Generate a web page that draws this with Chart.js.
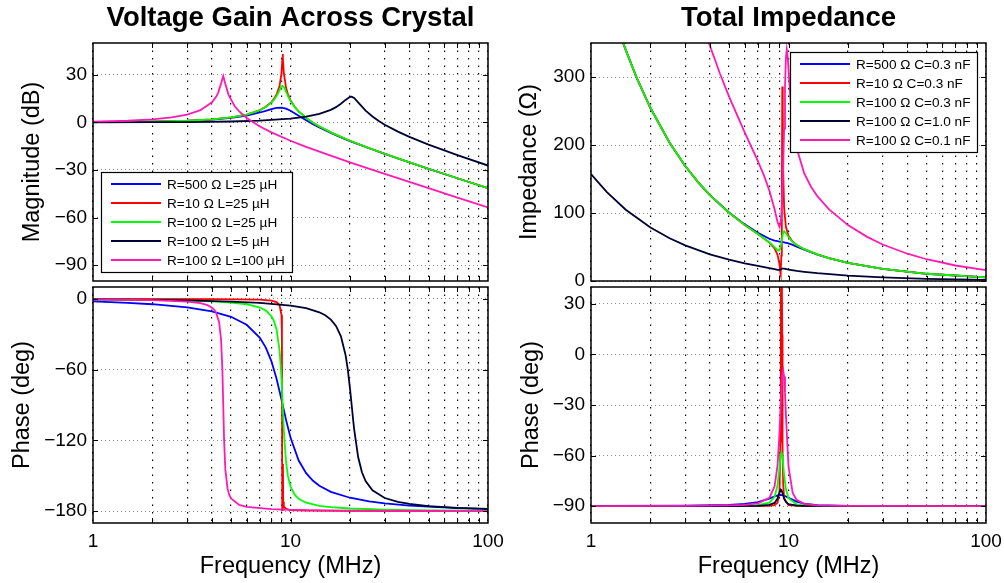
<!DOCTYPE html>
<html>
<head>
<meta charset="utf-8">
<script src="https://cdn.jsdelivr.net/npm/chart.js@4.4.1/dist/chart.umd.min.js"></script>
<style>
  body { margin: 0; background: #fff; }
  #wrap { position: relative; width: 1004px; height: 583px; }
  #wrap canvas { position: absolute; }
</style>
</head>
<body>
<div id="wrap">
  <canvas id="gainMag" width="520" height="290" style="left:0;top:0"></canvas>
  <canvas id="gainPhase" width="520" height="299" style="left:0;top:284px"></canvas>
  <canvas id="impMag" width="506" height="290" style="left:498px;top:0"></canvas>
  <canvas id="impPhase" width="506" height="299" style="left:498px;top:284px"></canvas>
</div>
<script>
// x axis (MHz, log)
const freqTicks = [1, 2, 3, 4, 5, 6, 7, 8, 9, 10, 20, 30, 40, 50, 60, 70, 80, 90, 100];
const freqLabels = [1, 10, 100];

// y ticks per panel
const gainTicks = [-90, -60, -30, 0, 30];
const gainPhaseTicks = [-180, -120, -60, 0];
const impTicks = [0, 100, 200, 300];
const impPhaseTicks = [-90, -60, -30, 0, 30];

const gainLabels = ["R=500 Ω L=25 µH", "R=10 Ω L=25 µH", "R=100 Ω L=25 µH", "R=100 Ω L=5 µH", "R=100 Ω L=100 µH"];
const impLabels = ["R=500 Ω C=0.3 nF", "R=10 Ω C=0.3 nF", "R=100 Ω C=0.3 nF", "R=100 Ω C=1.0 nF", "R=100 Ω C=0.1 nF"];
const seriesColors = ["#0000ff", "#ff0000", "#00ff00", "#000033", "#ff1ab3"];

// voltage gain magnitude, [MHz, dB]
const gainBlue = [[1,0.1],[1.5,0.2],[2,0.4],[3,0.9],[4,1.7],[5,2.8],[6,4.3],[7,6.2],[7.5,7.2],[8,8.3],[8.5,9.1],[9,9.25],[9.5,8.6],[10,7.3],[11,4.2],[12,1.3],[13,-1.15],[14,-3.25],[16,-6.7],[18,-9.45],[20,-11.8],[25,-16.35],[30,-19.9],[35,-22.8],[40,-25.2],[50,-29.3],[70,-35.25],[100,-41.5]];
const gainRed = [[1,0.1],[2,0.43],[3,1],[4,1.85],[5,3.1],[6,4.9],[7,7.7],[7.5,9.8],[8,12.7],[8.2,14.3],[8.5,17.5],[8.8,22.9],[9,30.7],[9.1,40.4],[9.13,43.1],[9.16,40.3],[9.25,31.2],[9.5,21.6],[9.7,17.8],[10,14],[10.5,9.8],[11,6.9],[12,2.8],[13,-0.2],[14,-2.6],[16,-6.3],[18,-9.2],[20,-11.6],[25,-16.25],[30,-19.8],[35,-22.7],[40,-25.2],[50,-29.25],[70,-35.25],[100,-41.5]];
const gainGreen = [[1,0.1],[2,0.43],[3,1],[4,1.85],[5,3.1],[6,4.9],[7,7.6],[7.5,9.6],[8,12.4],[8.2,13.8],[8.5,16.6],[8.8,20.2],[9,22.6],[9.13,23.1],[9.3,21.9],[9.5,19.2],[9.7,16.6],[10,13.4],[10.5,9.6],[11,6.8],[12,2.7],[13,-0.24],[14,-2.6],[16,-6.3],[18,-9.2],[20,-11.6],[25,-16.25],[30,-19.8],[35,-22.75],[40,-25.2],[50,-29.25],[70,-35.25],[100,-41.5]];
const gainBlack = [[1,0],[2,0.08],[3,0.19],[5,0.53],[7,1.07],[10,2.34],[12,3.6],[14,5.36],[16,7.88],[17,9.58],[18,11.68],[19,14.13],[20,16.04],[20.4,16.14],[21,15.33],[22,12.61],[24,7.42],[26,3.67],[28,0.83],[30,-1.48],[35,-5.85],[40,-9.13],[50,-14.02],[70,-20.66],[100,-27.25]];
const gainPink = [[1,0.43],[1.5,0.99],[2,1.85],[2.5,3.09],[3,4.9],[3.5,7.68],[4,12.6],[4.2,16.1],[4.3,18.6],[4.45,24.4],[4.565,29.15],[4.68,24.1],[4.85,17.5],[5.2,10.45],[5.5,6.87],[6,2.75],[7,-2.62],[8,-6.33],[10,-11.59],[12,-15.43],[14,-18.49],[20,-25.2],[30,-32.5],[50,-41.5],[70,-47.4],[100,-53.6]];

// voltage gain phase, [MHz, deg]
const phaseBlue = [[1,-2.2],[1.5,-3.4],[2,-4.6],[3,-7.3],[4,-10.7],[5,-15.25],[6,-22],[7,-33],[7.5,-41.4],[8,-52.75],[8.5,-67.7],[9,-85.3],[9.5,-102.8],[10,-117.6],[11,-137.1],[12,-147.8],[13,-154.2],[14,-158.4],[16,-163.6],[20,-168.6],[25,-171.6],[30,-173.3],[40,-175.2],[50,-176.2],[70,-177.35],[100,-178.2]];
const phaseRed = [[1,0],[4,-0.2],[7,-0.7],[8,-1.5],[8.5,-2.8],[8.8,-5.4],[9,-13.7],[9.05,-30],[9.08,-179],[9.16,-140],[9.18,-172],[9.25,-176],[9.5,-178],[10,-179],[12,-179.5],[20,-179.8],[100,-180]];
const phaseGreen = [[1,-0.44],[2,-0.92],[3,-1.47],[4,-2.17],[5,-3.12],[6,-4.61],[7,-7.39],[7.5,-10],[8,-14.74],[8.2,-17.95],[8.5,-26],[8.8,-43.4],[8.95,-60.3],[9,-67.6],[9.05,-75.8],[9.13,-90],[9.2,-102.4],[9.3,-117.9],[9.5,-138.7],[9.7,-150.1],[10,-159.1],[10.5,-166],[11,-169.5],[12,-172.8],[14,-175.5],[16,-176.6],[20,-177.7],[30,-178.7],[50,-179.25],[100,-179.6]];
const phaseBlack = [[1,-0.44],[2,-0.88],[3,-1.34],[5,-2.33],[7,-3.47],[10,-5.74],[12,-7.98],[14,-11.43],[15,-14],[16,-17.63],[17,-23],[18,-31.84],[19,-47.6],[19.5,-59.9],[20,-75.74],[20.4,-90],[20.8,-104],[21,-110.4],[22,-134.1],[23,-147.05],[24,-154.5],[26,-162.35],[30,-168.85],[35,-172.16],[40,-173.87],[50,-175.64],[70,-177.16],[100,-178.1]];
const phasePink = [[1,-0.46],[2,-1.08],[3,-2.31],[3.5,-3.71],[3.8,-5.4],[4,-7.49],[4.1,-9.2],[4.2,-11.8],[4.35,-19.86],[4.45,-34.33],[4.52,-60.37],[4.565,-90],[4.61,-119.4],[4.68,-145],[4.8,-160.9],[4.9,-166.2],[5,-169.2],[5.5,-174.7],[6,-176.4],[8,-178.3],[10,-178.85],[20,-179.5],[50,-179.8],[100,-179.9]];

// total impedance magnitude, [MHz, ohm]
const impBlue = [[1,509.6],[1.2,424.6],[1.4,363.8],[1.5,339.5],[1.7,299.5],[2,254.4],[2.5,203.3],[3,169.15],[3.5,144.7],[4,126.3],[5,100.7],[6,83.3],[7,70.8],[8,62.1],[8.5,59.5],[8.8,58.5],[9,58],[9.13,57.7],[9.3,57.4],[9.5,56.9],[10,55.25],[10.5,53],[11,50.6],[12,46],[14,38.9],[16,33.8],[20,26.8],[30,17.76],[50,10.63],[100,5.31]];
const impRed = [[1,509.6],[1.2,424.6],[1.4,363.8],[1.5,339.5],[1.7,299.5],[2,254.4],[2.5,203.3],[3,169.15],[3.5,144.7],[4,126.3],[5,100.3],[6,82.5],[7,69],[8,56.5],[8.5,47.9],[8.8,38.5],[9,24.8],[9.1,11.7],[9.13,9.9],[9.2,37.4],[9.25,99.8],[9.3,286],[9.35,256],[9.4,164],[9.5,108.3],[9.7,79.7],[10,66.5],[10.5,57.8],[11,53],[12,46.8],[14,39.05],[16,33.8],[20,26.8],[30,17.76],[50,10.63],[100,5.31]];
const impGreen = [[1,509.6],[1.2,424.6],[1.4,363.8],[1.5,339.5],[1.7,299.5],[2,254.4],[2.5,203.3],[3,169.15],[3.5,144.7],[4,126.3],[5,100.3],[6,82.55],[7,69.1],[8,57],[8.5,49.9],[8.8,45.25],[8.9,44.4],[9,45],[9.13,50.2],[9.2,55.6],[9.3,64.5],[9.4,71],[9.5,73.2],[9.7,70.5],[10,64.25],[10.5,57.3],[11,52.8],[12,46.8],[14,39.05],[16,33.8],[20,26.8],[30,17.76],[50,10.63],[100,5.31]];
const impBlack = [[1,157.2],[1.2,131],[1.5,104.8],[2,78.6],[2.5,62.8],[3,52.3],[4,39.2],[5,31.3],[6,26],[7,22.1],[8,19],[8.5,17.4],[8.8,16.5],[9,16.5],[9.13,17.2],[9.2,17.7],[9.3,18.2],[9.5,18.2],[10,16.8],[11,14.85],[12,13.5],[14,11.5],[20,8],[30,5.3],[50,3.2],[100,1.6]];
const impPink = [[3,466.9],[3.9,355.3],[4,345.9],[4.5,304.7],[5,271.2],[6,218.5],[7,176.2],[7.5,155.6],[8,133.05],[8.5,105.6],[8.8,86.7],[9,79.7],[9.13,86.7],[9.2,97.7],[9.3,125],[9.4,167.5],[9.5,224],[9.6,284.2],[9.7,327.4],[9.8,340.6],[9.9,330.5],[10,311.4],[10.2,273],[10.5,232.7],[11,195.1],[12,158.7],[13,138.65],[14,124.8],[16,105.65],[20,82.2],[25,64.9],[30,53.7],[40,40.1],[50,32],[70,22.8],[100,15.9]];

// total impedance phase, [MHz, deg]
const impPhaseBlue = [[1,-89.9],[3,-89.7],[5,-89.2],[6,-88.7],[7,-87.6],[8,-85.5],[8.5,-84.15],[9,-83.4],[9.13,-83.4],[9.3,-83.5],[9.5,-83.8],[10,-85],[11,-87.3],[12,-88.5],[14,-89.4],[20,-89.9],[100,-90]];
const impPhaseRed = [[1,-90],[8,-89.8],[8.5,-89.35],[8.8,-88],[9,-82],[9.1,-51.8],[9.13,-9.8],[9.16,31.6],[9.2,49.8],[9.25,48.4],[9.3,11.7],[9.31,-4.6],[9.35,-57.5],[9.4,-76.6],[9.5,-85.25],[10,-89.4],[12,-89.95],[100,-90]];
const impPhaseGreen = [[1,-90],[3,-89.9],[5,-89.8],[6,-89.7],[7,-89.35],[8,-87.9],[8.5,-84.5],[8.8,-77.6],[9,-67.3],[9.13,-59.8],[9.2,-58],[9.3,-59.75],[9.4,-65.3],[9.5,-71.4],[9.7,-79.9],[10,-85.3],[11,-89],[12,-89.6],[14,-89.9],[20,-90],[100,-90]];
const impPhaseBlack = [[1,-90],[5,-89.95],[7,-89.8],[8,-89.3],[8.5,-88.1],[8.8,-85.5],[9,-81.9],[9.13,-80.1],[9.2,-80.3],[9.3,-81.8],[9.5,-85.5],[9.7,-87.5],[10,-88.8],[11,-89.7],[12,-89.9],[100,-90]];
const impPhasePink = [[1,-89.95],[3,-89.8],[5,-89.5],[6,-89.2],[7,-88.3],[8,-85.1],[8.5,-78.3],[8.8,-65.8],[9,-47],[9.13,-29.9],[9.3,-12.3],[9.4,-9.5],[9.5,-13.1],[9.6,-22.5],[9.7,-35.5],[10,-66.6],[10.5,-82.2],[11,-86.3],[12,-88.6],[14,-89.55],[20,-89.9],[100,-90]];

const FONT = '"Liberation Sans", Arial, Helvetica, sans-serif';
const fmt = (v) => (v < 0 ? "\u2212" + Math.abs(v) : String(v));

function drawLegend(chart, pos) {
  const { ctx, chartArea: a } = chart;
  const sets = chart.data.datasets;
  ctx.font = "13.6px " + FONT;
  const textW = Math.max(...sets.map((d) => ctx.measureText(d.label).width));
  const w = Math.round(66 + textW + 7);
  const h = sets.length * 19 + 5;
  const left = pos.side === "left" ? a.left + pos.dx : a.right - pos.dx - w;
  const top = pos.vert === "top" ? a.top + pos.dy : a.bottom - pos.dy - h;
  ctx.fillStyle = "#fff";
  ctx.fillRect(left, top, w, h);
  ctx.strokeStyle = "#000";
  ctx.lineWidth = 1.2;
  ctx.strokeRect(left + 0.5, top + 0.5, w, h);
  sets.forEach((d, i) => {
    const cy = top + 12 + i * 19;
    ctx.strokeStyle = d.borderColor;
    ctx.lineWidth = 2;
    ctx.beginPath();
    ctx.moveTo(left + 10, cy);
    ctx.lineTo(left + 60, cy);
    ctx.stroke();
    ctx.fillStyle = "#000";
    ctx.textAlign = "left";
    ctx.textBaseline = "middle";
    ctx.fillText(d.label, left + 66, cy + 1);
  });
}

// box, inward ticks, legend and title, MATLAB style
const framePlugin = {
  id: "frame",
  afterDatasetsDraw(chart, args, opts) {
    const { ctx, chartArea: a } = chart;
    const { x, y } = chart.scales;
    ctx.save();
    ctx.strokeStyle = "#000";
    ctx.lineWidth = 1;
    ctx.beginPath();
    for (const t of x.ticks) {
      const px = Math.round(x.getPixelForValue(t.value)) + 0.5;
      if (px <= a.left + 1 || px >= a.right - 1) continue;
      ctx.moveTo(px, a.bottom);
      ctx.lineTo(px, a.bottom - 5);
      ctx.moveTo(px, a.top);
      ctx.lineTo(px, a.top + 5);
    }
    for (const t of y.ticks) {
      const py = Math.round(y.getPixelForValue(t.value)) + 0.5;
      ctx.moveTo(a.left, py);
      ctx.lineTo(a.left + 5, py);
      ctx.moveTo(a.right, py);
      ctx.lineTo(a.right - 5, py);
    }
    ctx.stroke();
    ctx.lineWidth = 1.5;
    ctx.strokeRect(a.left, a.top, a.right - a.left, a.bottom - a.top);
    if (opts.legend) drawLegend(chart, opts.legend);
    if (opts.title) {
      ctx.fillStyle = "#000";
      ctx.font = "bold 27.5px " + FONT;
      ctx.textAlign = "center";
      ctx.textBaseline = "alphabetic";
      ctx.fillText(opts.title, (a.left + a.right) / 2, a.top - 17);
    }
    ctx.restore();
  },
};

function panel(id, cfg) {
  const n = cfg.series.length;
  // eslint-disable-next-line no-new
  new Chart(document.getElementById(id), {
    type: "line",
    plugins: [framePlugin],
    data: {
      datasets: cfg.series.map((pts, i) => ({
        label: cfg.labels[i],
        data: pts.map(([x, y]) => ({ x, y })),
        borderColor: seriesColors[i],
        borderWidth: 1.8,
        pointRadius: 0,
        tension: 0,
        fill: false,
        order: n - i,
      })),
    },
    options: {
      responsive: false,
      animation: false,
      devicePixelRatio: 1,
      layout: { padding: cfg.padding },
      plugins: {
        legend: { display: false },
        tooltip: { enabled: false },
        frame: { title: cfg.title, legend: cfg.legend },
      },
      scales: {
        x: {
          type: "logarithmic",
          min: 1,
          max: 100,
          afterBuildTicks: (s) => { s.ticks = freqTicks.map((v) => ({ value: v })); },
          afterFit: (s) => {
            s.height = cfg.xHeight;
            s.paddingLeft = 0;
            s.paddingRight = 0;
          },
          ticks: {
            display: cfg.xHeight > 0,
            autoSkip: false,
            maxRotation: 0,
            padding: 7,
            color: "#000",
            font: { family: FONT, size: 19 },
            callback: (v) => (freqLabels.includes(v) ? String(v) : ""),
          },
          grid: { color: "#000", lineWidth: 1.2, drawTicks: false },
          border: { display: false, dash: [1.5, 6] },
          title: {
            display: cfg.xHeight > 0,
            text: "Frequency (MHz)",
            color: "#000",
            font: { family: FONT, size: 23.5 },
            padding: { top: 0, bottom: 2 },
          },
        },
        y: {
          min: cfg.yMin,
          max: cfg.yMax,
          afterBuildTicks: (s) => { s.ticks = cfg.yTicks.map((v) => ({ value: v })); },
          afterFit: (s) => {
            s.width = 93;
            s.paddingTop = 0;
            s.paddingBottom = 0;
          },
          ticks: {
            padding: 6,
            color: "#000",
            font: { family: FONT, size: 19 },
            callback: (v) => fmt(v),
          },
          grid: { color: "#8c8c8c", lineWidth: 1, drawTicks: false },
          border: { display: false, dash: [1, 3] },
          title: {
            display: true,
            text: cfg.yTitle,
            color: "#000",
            font: { family: FONT, size: 23.5 },
            padding: { top: cfg.yTitlePad, bottom: 0 },
          },
        },
      },
    },
  });
}

panel("gainMag", {
  series: [gainBlue, gainRed, gainGreen, gainBlack, gainPink],
  labels: gainLabels,
  title: "Voltage Gain Across Crystal",
  legend: { side: "left", vert: "bottom", dx: 8, dy: 9 },
  yMin: -100, yMax: 50, yTicks: gainTicks,
  yTitle: "Magnitude (dB)", yTitlePad: 18,
  xHeight: 0,
  padding: { left: 0, top: 43, right: 32, bottom: 9 },
});

panel("gainPhase", {
  series: [phaseBlue, phaseRed, phaseGreen, phaseBlack, phasePink],
  labels: gainLabels,
  yMin: -190, yMax: 10, yTicks: gainPhaseTicks,
  yTitle: "Phase (deg)", yTitlePad: 8,
  xHeight: 60,
  padding: { left: 0, top: 3, right: 32, bottom: 0 },
});

panel("impMag", {
  series: [impBlue, impRed, impGreen, impBlack, impPink],
  labels: impLabels,
  title: "Total Impedance",
  legend: { side: "right", vert: "top", dx: 9, dy: 9 },
  yMin: 0, yMax: 350, yTicks: impTicks,
  yTitle: "Impedance (Ω)", yTitlePad: 17,
  xHeight: 0,
  padding: { left: 0, top: 43, right: 18, bottom: 9 },
});

panel("impPhase", {
  series: [impPhaseBlue, impPhaseRed, impPhaseGreen, impPhaseBlack, impPhasePink],
  labels: impLabels,
  yMin: -100, yMax: 40, yTicks: impPhaseTicks,
  yTitle: "Phase (deg)", yTitlePad: 19,
  xHeight: 60,
  padding: { left: 0, top: 3, right: 18, bottom: 0 },
});
</script>
</body>
</html>
